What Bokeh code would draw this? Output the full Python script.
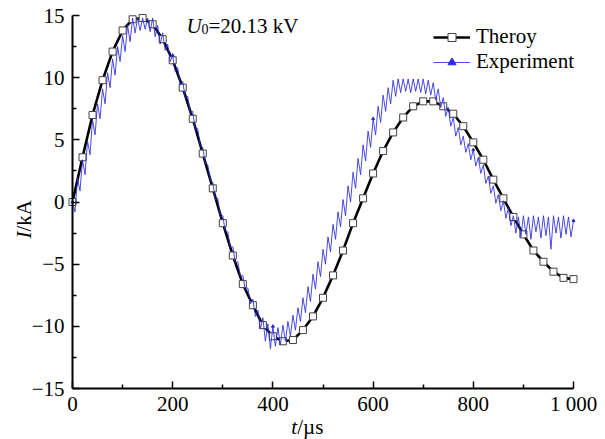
import math
from bokeh.plotting import figure
from bokeh.models import Range1d, FixedTicker, Label, Legend, LegendItem, ColumnDataSource
from bokeh.embed import file_html
from bokeh.resources import INLINE

# ---- data ----
theory_t = list(range(0, 1001, 20))
theory_i = [0.0, 3.6, 7.0, 9.8, 12.1, 13.8, 14.7, 14.8, 14.3, 13.1,
            11.4, 9.2, 6.7, 3.9, 1.1, -1.7, -4.3, -6.6, -8.3, -9.9,
            -10.8, -11.2, -11.1, -10.3, -9.2, -7.7, -5.9, -3.9, -1.7, 0.3,
            2.3, 4.1, 5.6, 6.8, 7.7, 8.1, 8.1, 7.7, 7.1, 6.1,
            4.8, 3.4, 1.8, 0.3, -1.2, -2.6, -3.9, -4.8, -5.6, -6.1, -6.2]

exp_t = list(range(0, 1001, 5))
exp_i = [0.0, -0.8, 1.9, 0.9, 3.4, 2.2, 4.9, 3.8, 6.6, 5.4,
         7.9, 6.7, 9.1, 7.9, 10.4, 9.2, 11.5, 10.2, 12.5, 11.3,
         13.4, 12.1, 14.2, 12.9, 14.8, 13.6, 14.8, 13.8, 14.8, 13.9,
         14.8, 13.7, 14.8, 13.3, 14.2, 12.7, 13.6, 12.2, 12.7, 11.3,
         11.8, 10.5, 10.8, 9.4, 9.7, 8.4, 8.5, 7.1, 7.3, 5.8,
         5.9, 4.5, 4.4, 3.1, 3.0, 1.7, 1.6, 0.2, 0.3, -1.2,
         -1.1, -2.4, -2.4, -3.7, -3.6, -4.9, -4.8, -6.0, -5.9, -7.1,
         -6.9, -8.2, -7.8, -9.2, -8.7, -10.2, -9.3, -11.2, -9.8, -11.8,
         -10.0, -11.6, -10.1, -11.5, -9.9, -11.2, -9.6, -10.8, -9.1, -10.3,
         -8.5, -9.6, -7.7, -8.9, -6.8, -8.0, -5.8, -7.0, -4.8, -6.0,
         -3.8, -5.0, -2.8, -4.0, -1.8, -3.0, -0.8, -2.0, 0.2, -1.1,
         1.3, 0.0, 2.4, 1.1, 3.5, 2.2, 4.6, 3.3, 5.7, 4.4,
         6.7, 5.4, 7.7, 6.4, 8.6, 7.3, 9.2, 7.9, 9.8, 8.5,
         9.9, 8.8, 9.9, 8.9, 9.9, 8.8, 9.9, 8.9, 9.9, 8.8,
         9.9, 8.7, 9.8, 8.6, 9.6, 8.2, 9.1, 7.6, 8.4, 6.9,
         7.6, 6.1, 6.8, 5.3, 6.0, 4.6, 5.3, 4.0, 4.7, 3.4,
         4.2, 2.9, 3.6, 2.3, 3.0, 1.5, 2.1, 0.7, 1.3, -0.1,
         0.6, -0.7, 0.1, -1.3, -0.5, -1.9, -1.1, -2.5, -1.2, -2.8,
         -1.1, -2.6, -1.2, -3.0, -1.1, -2.4, -1.2, -2.9, -1.1, -2.7,
         -1.2, -3.8, -1.1, -2.5, -1.2, -2.9, -1.1, -2.6, -1.2, -2.8,
         -1.5]

x_ticks = [0, 200, 400, 600, 800, 1000]
x_tick_labels = ["0", "200", "400", "600", "800", "1 000"]
x_minor = [100, 300, 500, 700, 900]
y_ticks = [-15, -10, -5, 0, 5, 10, 15]
y_tick_labels = ["\u221215", "\u221210", "\u22125", "0", "5", "10", "15"]
y_minor = [-12.5, -7.5, -2.5, 2.5, 7.5, 12.5]

FONT = "Liberation Serif"
FS = "21px"
BLUE = "#2b2be0"

# the frame fills the whole canvas; the axes are pinned at t=0 and I=-15
p = figure(width=605, height=439, min_border=0,
           x_range=Range1d(-143.71, 1063.87), y_range=Range1d(-19.10, 16.21),
           output_backend="svg", toolbar_location=None)
p.outline_line_color = None
p.xgrid.visible = False
p.ygrid.visible = False
p.xaxis.fixed_location = -15
p.yaxis.fixed_location = 0
p.xaxis.bounds = (0, 1000)
p.yaxis.bounds = (-15, 15)

for ax, ticks, minor, labels in ((p.xaxis, x_ticks, x_minor, x_tick_labels),
                                 (p.yaxis, y_ticks, y_minor, y_tick_labels)):
    ax.ticker = FixedTicker(ticks=ticks, minor_ticks=minor)
    ax.major_label_overrides = {t: l for t, l in zip(ticks, labels)}
    ax.axis_line_width = 2
    ax.axis_line_color = "black"
    ax.major_tick_in = 7
    ax.major_tick_out = 0
    ax.minor_tick_in = 4
    ax.minor_tick_out = 0
    ax.major_tick_line_width = 1.5
    ax.minor_tick_line_width = 1.5
    ax.major_tick_line_color = "black"
    ax.minor_tick_line_color = "black"
    ax.major_label_text_font = FONT
    ax.major_label_text_font_size = FS
    ax.major_label_text_color = "black"
p.xaxis.major_label_standoff = 3
p.yaxis.major_label_standoff = 8

src_t = ColumnDataSource(dict(t=theory_t, i=theory_i))
src_e = ColumnDataSource(dict(t=exp_t, i=exp_i))
src_em = ColumnDataSource(dict(t=exp_t[::40], i=exp_i[::40]))
lt = p.line("t", "i", source=src_t, line_color="black", line_width=2.6)
st = p.scatter("t", "i", source=src_t, marker="square", size=7,
               fill_color="white", line_color="#444444", line_width=1)
le = p.line("t", "i", source=src_e, line_color=BLUE, line_width=1, line_alpha=0.85)
te = p.scatter("t", "i", source=src_em, marker="triangle", size=3,
               fill_color=BLUE, line_color=BLUE)

legend = Legend(items=[LegendItem(label="Theroy", renderers=[lt, st]),
                       LegendItem(label="Experiment", renderers=[le, te])],
                location=(433, 365), border_line_color=None, background_fill_alpha=0,
                padding=0, spacing=0, margin=0, glyph_width=37, glyph_height=20,
                label_height=20, label_standoff=6,
                label_text_font=FONT, label_text_font_size=FS, label_text_color="black")
p.add_layout(legend)


def lab(x, y, text, size=FS, italic=False, angle=0.0):
    p.add_layout(Label(x=x, y=y, text=text, text_font=FONT, text_font_size=size,
                       text_font_style="italic" if italic else "normal",
                       text_color="black", text_baseline="alphabetic",
                       text_align="left", angle=angle))


# annotation U0 = 20.13 kV
lab(227.5, 14.12, "U", italic=True)
lab(257.5, 13.88, "0", size="14px")
lab(271.5, 14.12, "=20.13 kV")

# x axis label  t/µs
lab(436.5, -18.06, "t", italic=True)
lab(448.5, -18.06, "/\u00b5s")

# y axis label  I/kA (rotated)
lab(-97.8, -2.93, "I", italic=True, angle=math.pi / 2)
lab(-97.8, -2.37, "/kA", angle=math.pi / 2)

open("out.html", "w").write(file_html(p, INLINE))
